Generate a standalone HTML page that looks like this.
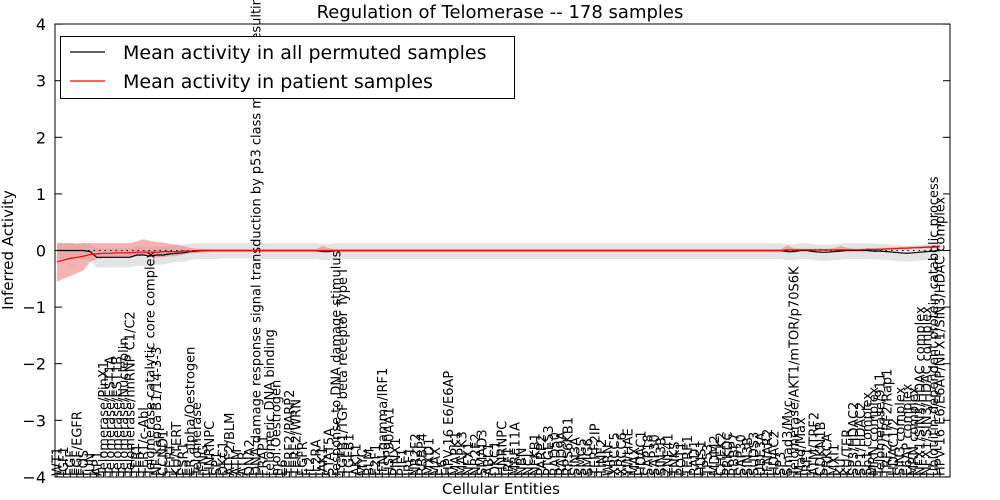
<!DOCTYPE html>
<html><head><meta charset="utf-8">
<style>
html,body{margin:0;padding:0;background:#fff;}
svg{display:block;font-family:"DejaVu Sans","Liberation Sans",sans-serif;}
</style></head>
<body>
<svg id="chart" width="1000" height="500" viewBox="0 0 1000 500" xmlns="http://www.w3.org/2000/svg">
<rect width="1000" height="500" fill="#fff"/>
<defs><clipPath id="pc"><rect x="55" y="24" width="895" height="453"/></clipPath></defs>
<g id="bands" clip-path="url(#pc)"></g>
<g id="labels"></g>
<g id="lines" clip-path="url(#pc)"></g>
<rect x="55" y="24" width="895" height="453" fill="none" stroke="#000" stroke-width="1"/>
<g id="yaxis"></g>
<text x="500" y="18" text-anchor="middle" font-size="18">Regulation of Telomerase -- 178 samples</text>
<text x="501" y="494" text-anchor="middle" font-size="15">Cellular Entities</text>
<text transform="translate(13,250) rotate(-90)" text-anchor="middle" font-size="15">Inferred Activity</text>
<g>
<rect x="60.5" y="36.5" width="454" height="62" fill="#fff" stroke="#000"/>
<line x1="70" y1="52" x2="105" y2="52" stroke="#000" stroke-width="1.2"/>
<text x="123" y="59" font-size="19">Mean activity in all permuted samples</text>
<line x1="70" y1="81" x2="105" y2="81" stroke="#f00" stroke-width="1.2"/>
<text x="123" y="88" font-size="19">Mean activity in patient samples</text>
</g>
</svg>
<script>
const entities = ["WT1","IGF1","EGF","EGF/EGFR","FOS","JUN","AP1","Telomerase/PinX1","Telomerase/EST1A","Telomerase/EST1B","Telomerase/Nucleolin","Telomerase/hnRNP C1/C2","TERT","TERT/c-Abl","Telomerase catalytic core complex","NF kappa B1/14-3-3","CCND1","TERT","KU/TERT","ESR1","ER alpha/Oestrogen","Telomerase","IFNG","HNRNPC","SP1","DKC1","ATF2/BLM","ATM","ATR","DNA2",
"DNA damage response signal transduction by p53 class mediator resulting in cell cycle arrest","FRAP1","telomeric DNA binding","mol:Oestrogen","E6","TERF2/PARP2","TERF2/WRN","EGFR","IL2","IL2RA","JAK1","STAT5A",
"response to DNA damage stimulus","TGFB1/TGF beta receptor Type I","TGFB1","AKT1","MYC","BLM","E2F1","IFN-gamma/IRF1","HSP90AA1","PINX1","PIF1","IRF1","NR2F2","RBBP4","MXD1","MAX","E6","HPV-16 E6/E6AP",
"MAPK1","MAPK3","NFX1","NR2F2","SMAD3","ABL1","DKC1","HNRNPC","IRF1","MRE11A","NBN","NCL","NFKB1","PARP2","PTGES3","RAD50","RAD9A","RPS6KB1","SIN3A","SMG5","SMG6","TERF2IP","TINF2","WRN","XRCC5","XRCC6","YWHAE","MAX","HDAC1","SAP18","SAP30","SIN3B","ZNF41","TNKS","POT1","TERF1","RAD1","HUS1","TP53","MDM2","CHEK2","PRKDC","RBBP7","SAP30","SIN3B","SUDS3","UBE3A","IFNAR2","HDAC2","SP3",
"Smad3/Myc","Telomerase/AKT1/mTOR/p70S6K","Mad/Max","IRF1","ATM/TRF2","CDKN1B","PRKCA","MXI1","KU","KU/TER","SP3/HDAC2","SP1/HDAC2","Sp1 complex","MRN complex","Telomerase/911","TRF2/TRF2/Rap1","HDAC1/2","SIN3 complex","E6AP complex","MRN complex","NFX1/SIN3/HDAC complex","NFX1/SIN3/HDAC complex","ubiquitin-dependent protein catabolic process","HPV-16 E6/E6AP/NFX1/SIN3/HDAC complex"];
const permMean = [0,0,0,0,0,-0.02,-0.12,-0.12,-0.12,-0.12,-0.12,-0.12,-0.08,-0.08,-0.1,-0.08,-0.08,-0.06,-0.05,-0.04,-0.02,-0.01,0,0,0,0,0,0,0,0,
0,0,0,0,0,0,0,0,0,0,-0.02,-0.02,0,0,0,0,0,0,0,0,0,0,0,0,0,0,0,0,0,0,
0,0,0,0,0,0,0,0,0,0,0,0,0,0,0,0,0,0,0,0,0,0,0,0,0,0,0,0,0,0,
0,0,0,0,0,0,0,0,0,0,0,0,0,0,0,0,0,0,0,0,
-0.02,-0.02,0,0,-0.02,-0.03,-0.03,-0.02,-0.01,0,0,0,0,-0.01,-0.01,-0.02,-0.03,-0.04,-0.05,-0.04,-0.03,-0.02,-0.01,0];
const permLo = [-0.15,-0.15,-0.15,-0.15,-0.15,-0.18,-0.3,-0.3,-0.3,-0.3,-0.3,-0.3,-0.27,-0.27,-0.28,-0.25,-0.25,-0.22,-0.2,-0.2,-0.17,-0.15,-0.15,-0.15,-0.15,-0.14,-0.14,-0.14,-0.14,-0.14,
-0.15,-0.15,-0.15,-0.15,-0.15,-0.15,-0.15,-0.15,-0.15,-0.15,-0.17,-0.17,-0.15,-0.15,-0.15,-0.15,-0.15,-0.15,-0.15,-0.15,-0.15,-0.15,-0.15,-0.15,-0.15,-0.15,-0.15,-0.15,-0.15,-0.15,
-0.15,-0.15,-0.15,-0.15,-0.15,-0.15,-0.15,-0.15,-0.15,-0.15,-0.15,-0.15,-0.15,-0.15,-0.15,-0.15,-0.15,-0.15,-0.15,-0.15,-0.15,-0.15,-0.15,-0.15,-0.15,-0.15,-0.15,-0.15,-0.15,-0.15,
-0.15,-0.15,-0.15,-0.15,-0.15,-0.15,-0.15,-0.15,-0.15,-0.15,-0.15,-0.15,-0.15,-0.15,-0.15,-0.15,-0.15,-0.15,-0.15,-0.15,
-0.17,-0.17,-0.15,-0.15,-0.17,-0.18,-0.18,-0.17,-0.16,-0.15,-0.15,-0.15,-0.15,-0.16,-0.16,-0.17,-0.18,-0.19,-0.2,-0.19,-0.18,-0.17,-0.16,-0.15];
const permHi = [0.13,0.13,0.13,0.13,0.13,0.12,0.04,0.04,0.04,0.04,0.04,0.04,0.07,0.07,0.06,0.07,0.07,0.09,0.1,0.1,0.12,0.13,0.13,0.13,0.13,0.13,0.13,0.13,0.13,0.13,
0.13,0.13,0.13,0.13,0.13,0.13,0.13,0.13,0.13,0.13,0.11,0.11,0.13,0.13,0.13,0.13,0.13,0.13,0.13,0.13,0.13,0.13,0.13,0.13,0.13,0.13,0.13,0.13,0.13,0.13,
0.13,0.13,0.13,0.13,0.13,0.13,0.13,0.13,0.13,0.13,0.13,0.13,0.13,0.13,0.13,0.13,0.13,0.13,0.13,0.13,0.13,0.13,0.13,0.13,0.13,0.13,0.13,0.13,0.13,0.13,
0.13,0.13,0.13,0.13,0.13,0.13,0.13,0.13,0.13,0.13,0.13,0.13,0.13,0.13,0.13,0.13,0.13,0.13,0.13,0.13,
0.11,0.11,0.13,0.13,0.11,0.1,0.1,0.11,0.12,0.13,0.13,0.13,0.13,0.12,0.12,0.11,0.1,0.09,0.08,0.09,0.1,0.11,0.12,0.13];
const patMean = [-0.2,-0.17,-0.14,-0.12,-0.1,-0.07,-0.06,-0.05,-0.05,-0.04,-0.04,-0.04,-0.03,-0.03,-0.03,-0.03,-0.02,-0.02,-0.02,-0.01,-0.01,0,0,0,0,0,0,0,0,0,
0,0,0,0,0,0,0,0,0,0,0,0,0,0,0,0,0,0,0,0,0,0,0,0,0,0,0,0,0,0,
0,0,0,0,0,0,0,0,0,0,0,0,0,0,0,0,0,0,0,0,0,0,0,0,0,0,0,0,0,0,
0,0,0,0,0,0,0,0,0,0,0,0,0,0,0,0,0,0,0,0,
0.01,0.01,0.01,0.01,0.01,0.01,0.01,0.01,0.01,0.01,0.01,0.01,0.02,0.02,0.02,0.03,0.03,0.04,0.04,0.05,0.05,0.06,0.06,0.07];
const patLo = [-0.55,-0.5,-0.45,-0.4,-0.35,-0.2,-0.15,-0.13,-0.13,-0.12,-0.12,-0.12,-0.1,-0.08,-0.08,-0.12,-0.12,-0.1,-0.1,-0.07,-0.05,-0.04,-0.03,-0.02,-0.02,-0.02,-0.02,-0.02,-0.02,-0.02,
-0.02,-0.02,-0.02,-0.02,-0.02,-0.02,-0.02,-0.02,-0.02,-0.02,-0.02,-0.02,-0.02,-0.02,-0.02,-0.02,-0.02,-0.02,-0.02,-0.02,-0.02,-0.02,-0.02,-0.02,-0.02,-0.02,-0.02,-0.02,-0.02,-0.02,
-0.02,-0.02,-0.02,-0.02,-0.02,-0.02,-0.02,-0.02,-0.02,-0.02,-0.02,-0.02,-0.02,-0.02,-0.02,-0.02,-0.02,-0.02,-0.02,-0.02,-0.02,-0.02,-0.02,-0.02,-0.02,-0.02,-0.02,-0.02,-0.02,-0.02,
-0.02,-0.02,-0.02,-0.02,-0.02,-0.02,-0.02,-0.02,-0.02,-0.02,-0.02,-0.02,-0.02,-0.02,-0.02,-0.02,-0.02,-0.02,-0.02,-0.02,
-0.01,-0.01,-0.01,-0.01,-0.01,-0.01,-0.01,-0.01,-0.01,-0.01,-0.01,-0.01,0,0,0,0.01,0.01,0.02,0.02,0.03,0.03,0.04,0.04,0.05];
const patHi = [0.13,0.13,0.13,0.12,0.13,0.13,0.13,0.13,0.13,0.13,0.13,0.13,0.16,0.2,0.17,0.15,0.14,0.12,0.1,0.08,0.05,0.03,0.03,0.02,0.02,0.02,0.02,0.02,0.02,0.02,
0.02,0.02,0.02,0.02,0.02,0.02,0.02,0.02,0.02,0.02,0.08,0.04,0.02,0.02,0.02,0.02,0.02,0.02,0.02,0.02,0.02,0.02,0.02,0.02,0.02,0.02,0.02,0.02,0.02,0.02,
0.02,0.02,0.02,0.02,0.02,0.02,0.02,0.02,0.02,0.02,0.02,0.02,0.02,0.02,0.02,0.02,0.02,0.02,0.02,0.02,0.02,0.02,0.02,0.02,0.02,0.02,0.02,0.02,0.02,0.02,
0.02,0.02,0.02,0.02,0.02,0.02,0.02,0.02,0.02,0.02,0.02,0.02,0.02,0.02,0.02,0.02,0.02,0.02,0.02,0.02,
0.09,0.04,0.03,0.03,0.03,0.03,0.03,0.04,0.08,0.05,0.03,0.03,0.04,0.04,0.05,0.05,0.06,0.06,0.07,0.07,0.08,0.08,0.09,0.09];
const yTicks = [-4,-3,-2,-1,0,1,2,3,4];

const NS = "http://www.w3.org/2000/svg";
const X0 = 57, X1 = 940;
const n = entities.length;
function xs(i){ return X0 + i*(X1-X0)/(n-1); }
function ys(v){ return 250.5 - v*56.6; }
function mk(tag, attrs, parent){
  const e = document.createElementNS(NS, tag);
  for (const k in attrs) e.setAttribute(k, attrs[k]);
  parent.appendChild(e); return e;
}
function val(a,i){ return a[Math.min(i, a.length-1)]; }
function band(lo, hi){
  let d = "";
  for (let i=0;i<n;i++) d += (i?"L":"M") + xs(i).toFixed(1) + "," + ys(val(hi,i)).toFixed(1);
  for (let i=n-1;i>=0;i--) d += "L" + xs(i).toFixed(1) + "," + ys(val(lo,i)).toFixed(1);
  return d + "Z";
}
function line(a){
  let d = "";
  for (let i=0;i<n;i++) d += (i?"L":"M") + xs(i).toFixed(1) + "," + ys(val(a,i)).toFixed(1);
  return d;
}
const bands = document.getElementById("bands");
const gb = mk("path", {d: band(permLo, permHi), fill:"#d8d8d8", "fill-opacity":"0.7"}, bands);


const rb = mk("path", {d: band(patLo, patHi), fill:"#f08080", "fill-opacity":"0.6"}, bands);



const lines = document.getElementById("lines");
const zl = mk("line", {x1:55, x2:950, y1:ys(0), y2:ys(0), stroke:"#000", "stroke-dasharray":"1.5,4", "stroke-width":1}, lines);


const pl = mk("path", {d: line(permMean), fill:"none", stroke:"#000", "stroke-width":1.2}, lines);


const rl = mk("path", {d: line(patMean), fill:"none", stroke:"#f00", "stroke-width":1.2}, lines);



const labels = document.getElementById("labels");
for (let i=0;i<n;i++){
  const x = xs(i);
  const t = mk("text", {transform:"translate(" + (x+4.5).toFixed(1) + ",476) rotate(-90)", "font-size":"13"}, labels);
  t.textContent = entities[i];
  
  
  const tk = mk("line", {x1:x, x2:x, y1:477, y2:472, stroke:"#000"}, labels);
  
  
}
const yaxis = document.getElementById("yaxis");
for (const v of yTicks){
  const y = ys(v);
  const t = mk("text", {x:46, y:y+6, "text-anchor":"end", "font-size":"16"}, yaxis);
  t.textContent = v === 0 ? "0" : (v < 0 ? "\u2212" + (-v) : String(v));
  
  
  const a = mk("line", {x1:55, x2:62, y1:y, y2:y, stroke:"#000"}, yaxis);
  
  
  const b = mk("line", {x1:943, x2:950, y1:y, y2:y, stroke:"#000"}, yaxis);
  
  
}
</script>
</body></html>
